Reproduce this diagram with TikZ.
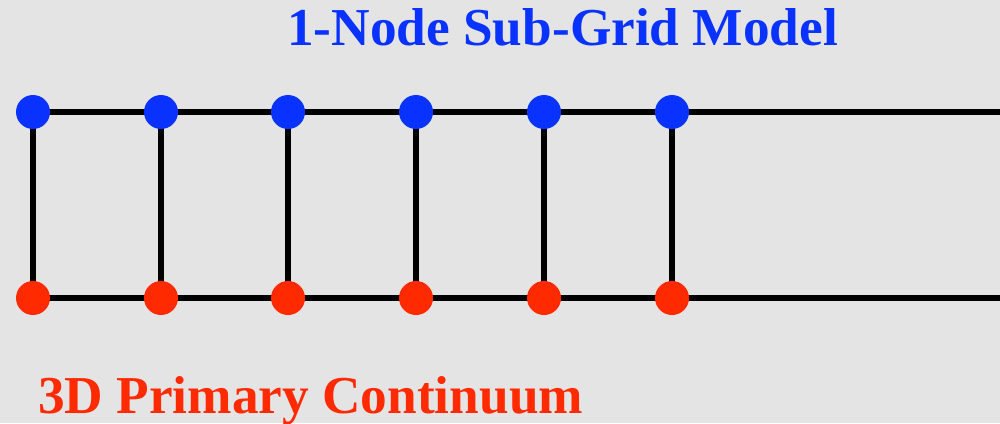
\documentclass[tikz,border=0pt]{standalone}
\usepackage{fontspec}
\setmainfont{Liberation Serif}
\definecolor{bg}{HTML}{E4E4E4}
\definecolor{nblue}{HTML}{0A32FF}
\definecolor{nred}{HTML}{FF2A00}
\begin{document}
\begin{tikzpicture}[x=1pt,y=-1pt,
  bluedot/.style={circle,fill=nblue,minimum size=34pt,inner sep=0pt},
  reddot/.style={circle,fill=nred,minimum size=34pt,inner sep=0pt},
  link/.style={line width=6.5pt},
  lbl/.style={font=\fontsize{53.3}{60}\selectfont\bfseries,inner sep=0pt,anchor=base west}]
\fill[bg] (0,0) rectangle (1000,423);
\useasboundingbox (0,0) rectangle (1000,423);
\coordinate (te) at (1000,112);
\coordinate (be) at (1000,298);
\foreach \i/\x in {1/33,2/161,3/288,4/416,5/544,6/672}{
  \coordinate (t\i) at (\x,112);
  \coordinate (b\i) at (\x,298);
}
\draw[link] (t1) -- (te);
\draw[link] (b1) -- (be);
\foreach \i in {1,...,6}{ \draw[link] (t\i) -- (b\i); }
\foreach \i in {1,...,6}{
  \node[bluedot] (T\i) at (t\i) {};
  \node[reddot] (B\i) at (b\i) {};
}
\node[lbl,text=nblue] (title) at (287,45) {1-Node Sub-Grid Model};
\node[lbl,text=nred] (sub) at (38,413) {3D Primary Continuum};
\end{tikzpicture}
\end{document}
